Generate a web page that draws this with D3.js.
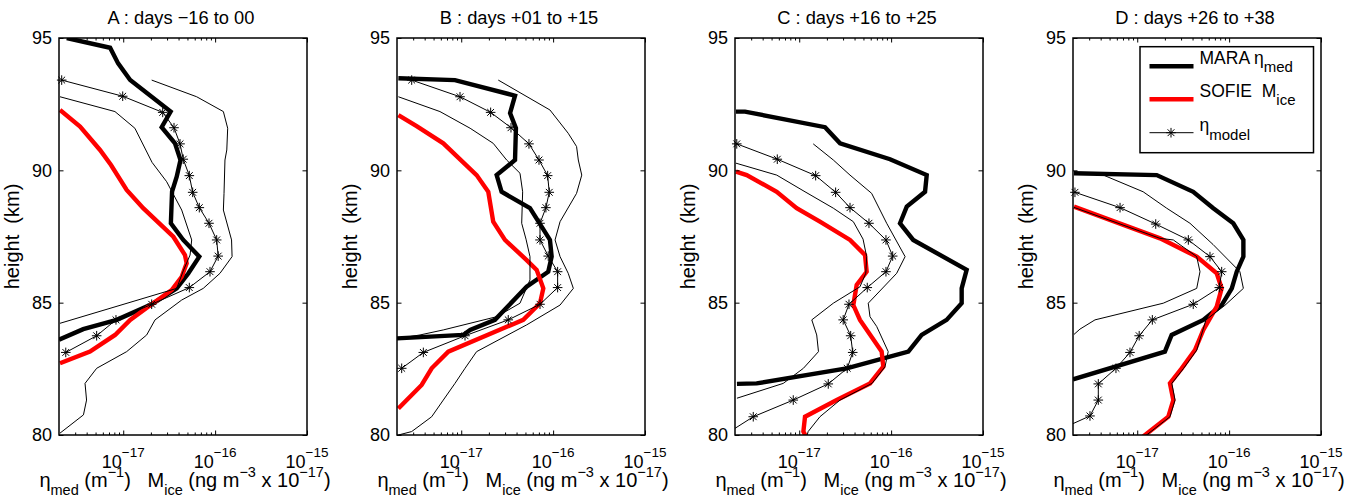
<!DOCTYPE html>
<html><head><meta charset="utf-8">
<script src="https://cdn.jsdelivr.net/npm/d3@7"></script>
<style>
body{margin:0;background:#fff}
text{font-family:"Liberation Sans",Arial,Helvetica,sans-serif;fill:#000}
</style>
</head><body>
<svg id="chart" width="1356" height="498" xmlns="http://www.w3.org/2000/svg"></svg>
<script>
// ---------- labels ----------
const panelTitles = ["A : days \u221216 to 00", "B : days +01 to +15", "C : days +16 to +25", "D : days +26 to +38"];
const yTickValues = [80, 85, 90, 95];
const xTickExponents = [-17, -16, -15];
const xMinorTicks = [3e-18,4e-18,5e-18,6e-18,7e-18,8e-18,9e-18,2e-17,3e-17,4e-17,5e-17,6e-17,7e-17,8e-17,9e-17];
const xDomain = [2e-18, 1e-15];
const yDomain = [80, 95];
const yAxisLabel = "height  (km)";
const legendLabels = [["MARA \u03b7", "med"], ["SOFIE  M", "ice"], ["\u03b7", "model"]];

// ---------- data: [height km, value] ----------
const maraA = [[95.0,2.43e-18],[94.63,7.2e-18],[94.04,8.8e-18],[93.41,1.19e-17],[92.22,3.28e-17],[91.63,2.62e-17],[91.02,3.66e-17],[90.39,4.2e-17],[89.76,3.82e-17],[89.2,3.4e-17],[88.0,3.3e-17],[87.37,4.5e-17],[86.74,6.73e-17],[86.1,5.1e-17],[85.54,3.82e-17],[84.94,2.04e-17],[84.35,8.5e-18],[84.0,3.67e-18],[83.6,2.0e-18]];
const sofieA = [[92.28,2.05e-18],[91.65,3.39e-18],[90.77,5.59e-18],[90.2,7.36e-18],[89.26,1.09e-17],[88.57,1.65e-17],[87.49,3.51e-17],[86.8,4.7e-17],[86.49,4.9e-17],[85.98,4.33e-17],[85.48,3.37e-17],[84.94,2.04e-17],[84.35,1.19e-17],[83.78,8.15e-18],[83.15,4.35e-18],[82.71,2.05e-18]];
const modelA = [[93.41,2.14e-18],[92.8,9.87e-18],[92.19,2.69e-17],[91.61,3.57e-17],[91.0,4.15e-17],[90.42,4.5e-17],[89.8,5.24e-17],[89.17,5.7e-17],[88.59,6.73e-17],[88.0,8.58e-17],[87.37,1.04e-16],[86.76,1.08e-16],[86.17,8.8e-17],[85.57,5.24e-17],[84.94,2.04e-17],[84.35,8.34e-18],[83.75,5.14e-18],[83.12,2.37e-18]];
const highA = [[93.41,2.04e-17],[92.78,6.3e-17],[92.22,1.23e-16],[91.59,1.37e-16],[90.77,1.34e-16],[90.39,1.28e-16],[89.13,1.25e-16],[88.5,1.23e-16],[87.37,1.51e-16],[86.74,1.53e-16],[86.11,1.13e-16],[85.54,7.43e-17],[85.1,4.33e-17],[84.35,2.22e-17],[83.78,1.8e-17],[83.15,1.09e-17],[82.52,5.14e-18],[81.95,3.84e-18],[81.32,3.99e-18],[80.76,3.69e-18],[80.07,2.05e-18]];
const lowA = [[92.78,2.05e-18],[92.22,8.13e-18],[91.59,1.34e-17],[90.3,2.06e-17],[89.57,2.97e-17],[88.5,4.33e-17],[87.37,5.56e-17],[86.8,5.34e-17],[86.2,4.5e-17],[85.54,3.82e-17],[84.22,2.05e-18]];

const maraB = [[93.48,2.07e-18],[93.41,8.55e-18],[92.82,3.85e-17],[92.16,3.4e-17],[91.59,3.94e-17],[90.39,3.85e-17],[89.82,2.43e-17],[89.19,2.75e-17],[88.57,5.6e-17],[87.37,9.24e-17],[86.74,9.64e-17],[86.17,8.85e-17],[85.6,5.15e-17],[84.35,2.33e-17],[83.97,1.25e-17],[83.78,1.05e-17],[83.65,2.0e-18]];
const sofieB = [[92.09,2.07e-18],[91.67,3.27e-18],[91.02,6.38e-18],[89.82,1.47e-17],[89.19,1.97e-17],[88.06,2.23e-17],[87.37,2.99e-17],[86.61,5.15e-17],[86.24,6.62e-17],[85.54,7.82e-17],[84.98,7.2e-17],[84.35,4.73e-17],[83.15,7.23e-18],[82.52,4.77e-18],[81.89,3.71e-18],[81.0,2.07e-18]];
const modelB = [[93.41,2.89e-18],[92.78,9.7e-18],[92.19,2.09e-17],[91.61,3.48e-17],[91.0,5.46e-17],[90.39,7.02e-17],[89.8,8.72e-17],[89.17,9.08e-17],[88.59,8.35e-17],[88.0,7.2e-17],[87.37,7.2e-17],[86.76,8.85e-17],[86.17,1.12e-16],[85.57,1.12e-16],[84.94,7.2e-17],[84.35,3.25e-17],[83.75,1.1e-17],[83.12,3.87e-18],[82.52,2.25e-18]];
const highB = [[93.41,2.53e-17],[92.28,9.24e-17],[91.4,1.46e-16],[90.9,1.8e-16],[90.39,1.88e-16],[89.82,2.05e-16],[89.13,1.8e-16],[88.06,1.19e-16],[87.37,1.05e-16],[86.74,1.19e-16],[86.11,1.46e-16],[85.54,1.66e-16],[84.91,1.19e-16],[84.16,5.15e-17],[83.15,1.47e-17],[82.52,1.1e-17],[81.95,8.55e-18],[81.32,6.38e-18],[80.69,4.77e-18],[80.13,2.89e-18],[80.0,2.07e-18]];
const lowB = [[92.78,2.07e-18],[92.22,5.87e-18],[91.59,1.25e-17],[91.02,2.23e-17],[90.39,3.12e-17],[89.89,4.36e-17],[89.19,4.66e-17],[88.0,4.55e-17],[87.4,5.07e-17],[86.74,5.6e-17],[85.86,5.6e-17],[84.98,4.36e-17],[84.47,2.43e-17],[83.97,6.38e-18],[83.78,3.56e-18],[83.65,2.07e-18]];

const maraC = [[92.22,2.05e-18],[92.22,2.57e-18],[91.63,1.91e-17],[91.02,2.78e-17],[90.42,9.73e-17],[89.82,2.44e-16],[89.19,2.34e-16],[88.63,1.48e-16],[88.0,1.25e-16],[87.37,1.74e-16],[86.24,6.64e-16],[85.54,5.86e-16],[84.98,5.86e-16],[84.35,4.02e-16],[83.78,2.15e-16],[83.15,1.54e-16],[82.52,3.28e-17],[81.95,3.44e-18],[81.93,2.1e-18]];
const sofieC = [[89.95,2.05e-18],[89.82,2.68e-18],[89.19,5.69e-18],[88.57,9.38e-18],[88.06,1.68e-17],[87.37,3.57e-17],[86.8,5.2e-17],[86.17,5.42e-17],[85.67,4.22e-17],[84.91,3.88e-17],[84.35,4.58e-17],[83.15,7.89e-17],[82.58,8.22e-17],[81.95,5.89e-17],[81.32,2.56e-17],[80.69,1.156e-17],[80.13,1.11e-17],[79.9,1.2e-17]];
const modelC = [[91.0,2.09e-18],[90.42,5.77e-18],[89.8,1.51e-17],[89.17,2.49e-17],[88.59,3.57e-17],[88.0,5.74e-17],[87.37,8.79e-17],[86.76,1.04e-16],[86.17,8.79e-17],[85.57,5.5e-17],[84.94,3.48e-17],[84.35,3.01e-17],[83.75,3.63e-17],[83.12,3.82e-17],[82.52,3.33e-17],[81.93,2.07e-17],[81.32,8.61e-18],[80.69,3.16e-18],[80.09,1.69e-18]];
const highC = [[91.0,1.42e-17],[90.39,2.35e-17],[89.82,3.57e-17],[89.13,6.14e-17],[88.0,8.95e-17],[86.74,1.42e-16],[86.11,1.15e-16],[84.98,5.64e-17],[84.47,5.89e-17],[84.1,6.97e-17],[83.15,9.3e-17],[82.58,8.58e-17],[81.95,6.2e-17],[81.32,2.78e-17],[80.69,1.68e-17],[80.13,1.25e-17],[79.9,1.2e-17]];
const lowC = [[90.27,2.05e-18],[89.82,5.69e-18],[89.19,1.156e-17],[88.57,2.35e-17],[88.06,3.88e-17],[87.4,4.95e-17],[86.74,5.42e-17],[86.11,5.3e-17],[85.6,4.58e-17],[84.98,2.35e-17],[84.35,1.37e-17],[83.78,1.55e-17],[83.15,1.62e-17],[82.52,1.11e-17],[81.95,6.7e-18],[81.39,2.1e-18]];

const maraD = [[89.89,2.05e-18],[89.82,1.63e-17],[89.19,4.07e-17],[88.57,6.73e-17],[88.0,1.11e-16],[87.37,1.43e-16],[86.74,1.43e-16],[86.17,1.21e-16],[85.54,1.07e-16],[84.91,8.3e-17],[84.35,5.24e-17],[83.78,2.37e-17],[83.15,2.0e-17],[82.1,2.0e-18]];
const sofieD = [[88.63,2.05e-18],[87.43,1.77e-17],[86.74,4.44e-17],[86.11,7.33e-17],[85.54,8.3e-17],[84.85,7.33e-17],[83.97,5.24e-17],[83.21,4.25e-17],[82.52,3.05e-17],[81.95,2.27e-17],[81.32,2.47e-17],[80.69,2.18e-17],[79.94,1.16e-17]];
const modelD = [[89.17,2.1e-18],[88.59,6.5e-18],[87.97,1.59e-17],[87.37,3.6e-17],[86.74,6.19e-17],[86.17,8.3e-17],[85.57,7.82e-17],[84.94,4.07e-17],[84.35,1.46e-17],[83.75,1.05e-17],[83.12,8.34e-18],[82.52,5.87e-18],[81.93,3.77e-18],[81.32,3.77e-18],[80.72,3.06e-18],[80.12,1.27e-18]];
const highD = [[89.9,2.05e-18],[89.82,4.28e-18],[89.19,1.16e-17],[88.57,2.09e-17],[88.0,3.75e-17],[87.2,6.68e-17],[86.17,1.31e-16],[85.54,1.43e-16],[84.9,9.0e-17],[84.35,5.6e-17],[83.21,4.45e-17],[82.52,3.2e-17],[81.95,2.38e-17],[81.32,2.58e-17],[80.69,2.27e-17],[79.94,1.2e-17]];
const lowD = [[88.6,2.05e-18],[87.43,1.77e-17],[87.37,2.47e-17],[86.74,4.44e-17],[86.17,4.82e-17],[85.54,4.44e-17],[84.98,1.92e-17],[84.35,3.47e-18],[84.0,2.38e-18],[83.8,2.05e-18]];

const panels = [
  {mara: maraA, sofie: sofieA, model: modelA, high: highA, low: lowA},
  {mara: maraB, sofie: sofieB, model: modelB, high: highB, low: lowB},
  {mara: maraC, sofie: sofieC, model: modelC, high: highC, low: lowC},
  {mara: maraD, sofie: sofieD, model: modelD, high: highD, low: lowD}
];

// ---------- layout ----------
const svg = d3.select("#chart");
svg.append("rect").attr("width", 1356).attr("height", 498).attr("fill", "#fff");
const lefts = [59, 397, 735, 1073];
const W = 248, TOP = 38, BOTTOM = 435;
const FS = 17.5, FSS = 13;

function starPath(r) {
  const d = r * Math.SQRT1_2;
  return `M${-r},0L${r},0M0,${-r}L0,${r}M${-d},${-d}L${d},${d}M${-d},${d}L${d},${-d}`;
}

function addRich(g, parts, baseSize, smallSize, shiftSub, shiftSup) {
  let cur = 0;
  parts.forEach(([t, type]) => {
    const target = type === "sub" ? shiftSub : type === "sup" ? -shiftSup : 0;
    g.append("tspan").attr("dy", target - cur)
      .attr("font-size", type === "n" ? baseSize : smallSize)
      .text(t);
    cur = target;
  });
}

panels.forEach((p, i) => {
  const L = lefts[i];
  const x = d3.scaleLog().domain(xDomain).range([L, L + W]);
  const y = d3.scaleLinear().domain(yDomain).range([BOTTOM, TOP]);
  const g = svg.append("g");

  const clipId = "clip" + i;
  svg.append("clipPath").attr("id", clipId).append("rect")
    .attr("x", L).attr("y", TOP).attr("width", W).attr("height", BOTTOM - TOP);

  const line = d3.line().x(d => x(d[1])).y(d => y(d[0]));
  const plot = g.append("g").attr("clip-path", `url(#${clipId})`);

  plot.append("path").datum(p.mara).attr("d", line).attr("fill", "none")
    .attr("stroke", "#000").attr("stroke-width", 4.4).attr("stroke-linejoin", "miter").attr("stroke-miterlimit", 3);
  plot.append("path").datum(p.sofie).attr("d", line).attr("fill", "none")
    .attr("stroke", "#ff0000").attr("stroke-width", 4.4).attr("stroke-linejoin", "miter").attr("stroke-miterlimit", 3);
  [p.high, p.low, p.model].forEach(s => {
    plot.append("path").datum(s).attr("d", line).attr("fill", "none")
      .attr("stroke", "#000").attr("stroke-width", 1);
  });
  g.append("g").selectAll("path")
    .data(p.model.filter(d => d[1] >= xDomain[0] && d[1] <= xDomain[1] && d[0] >= yDomain[0] && d[0] <= yDomain[1]))
    .join("path")
    .attr("transform", d => `translate(${x(d[1])},${y(d[0])})`)
    .attr("d", starPath(4.8)).attr("stroke", "#000").attr("stroke-width", 1).attr("fill", "none");

  // axes
  const majors = xTickExponents.map(e => Math.pow(10, e));
  const styleAxis = (a) => { a.select(".domain").remove(); a.selectAll("line").attr("stroke", "#000").attr("stroke-width", 1); };
  g.append("g").attr("transform", `translate(0,${BOTTOM})`)
    .call(d3.axisBottom(x).tickValues(majors).tickSize(-4.5).tickFormat("")).call(styleAxis);
  g.append("g").attr("transform", `translate(0,${BOTTOM})`)
    .call(d3.axisBottom(x).tickValues(xMinorTicks).tickSize(-2.5).tickFormat("")).call(styleAxis);
  g.append("g").attr("transform", `translate(0,${TOP})`)
    .call(d3.axisTop(x).tickValues(majors).tickSize(-4.5).tickFormat("")).call(styleAxis);
  g.append("g").attr("transform", `translate(0,${TOP})`)
    .call(d3.axisTop(x).tickValues(xMinorTicks).tickSize(-2.5).tickFormat("")).call(styleAxis);
  const ya = g.append("g").attr("transform", `translate(${L},0)`)
    .call(d3.axisLeft(y).tickValues(yTickValues).tickSize(-4.5).tickPadding(7).tickFormat(d3.format("d")));
  styleAxis(ya);
  ya.selectAll("text").attr("font-size", 18).attr("font-family", '"Liberation Sans",Arial,sans-serif').attr("fill", "#000");
  g.append("g").attr("transform", `translate(${L + W},0)`)
    .call(d3.axisRight(y).tickValues(yTickValues).tickSize(-4.5).tickFormat("")).call(styleAxis);

  g.append("rect").attr("x", L).attr("y", TOP).attr("width", W).attr("height", BOTTOM - TOP)
    .attr("fill", "none").attr("stroke", "#000").attr("stroke-width", 1.5);

  // x tick labels
  majors.forEach((v, k) => {
    const t = g.append("text").attr("x", x(v)).attr("y", 468).attr("text-anchor", "middle");
    addRich(t, [["10", "n"], ["\u2212" + String(-xTickExponents[k]), "sup"]], 18, 13.5, 0, 11.5);
  });

  // x label
  const xl = g.append("text").attr("x", L + W / 2 + 2).attr("y", 487).attr("text-anchor", "middle")
    .style("white-space", "pre");
  addRich(xl, [["\u03b7", "n"], ["med", "sub"], [" (m", "n"], ["\u22121", "sup"], [")   M", "n"], ["ice", "sub"],
    [" (ng m", "n"], ["\u22123", "sup"], [" x 10", "n"], ["\u221217", "sup"], [")", "n"]], 20, 14.5, 8, 10);

  // y label
  svg.append("text").attr("transform", `translate(${L - 40},${(TOP + BOTTOM) / 2}) rotate(-90)`)
    .attr("text-anchor", "middle").attr("font-size", 20).style("white-space", "pre").text(yAxisLabel);

  // title
  svg.append("text").attr("x", L + W / 2 - 2).attr("y", 23.5).attr("text-anchor", "middle")
    .attr("font-size", 18.3).text(panelTitles[i]);

  // legend in last panel
  if (i === 3) {
    const lg = svg.append("g");
    const bx = L + 67, by = TOP + 8.7, bw = 173.5, bh = 106;
    lg.append("rect").attr("x", bx).attr("y", by).attr("width", bw).attr("height", bh)
      .attr("fill", "#fff").attr("stroke", "#000").attr("stroke-width", 1.5);
    const rowsY = [by + 19.5, by + 52.5, by + 86];
    const styles = [{c: "#000", w: 4.4}, {c: "#ff0000", w: 4.4}, {c: "#000", w: 1}];
    legendLabels.forEach((lab, k) => {
      lg.append("line").attr("x1", bx + 9.5).attr("x2", bx + 53.5).attr("y1", rowsY[k]).attr("y2", rowsY[k])
        .attr("stroke", styles[k].c).attr("stroke-width", styles[k].w);
      if (k === 2) lg.append("path").attr("transform", `translate(${bx + 31},${rowsY[k]})`).attr("d", starPath(4.8))
        .attr("stroke", "#000").attr("stroke-width", 1);
      const t = lg.append("text").attr("x", bx + 59.5).attr("y", rowsY[k] - (k === 2 ? 1.5 : 2.5)).style("white-space", "pre");
      addRich(t, [[lab[0], "n"], [lab[1], "sub"]], 17.5, 15, 8.5, 0);
    });
  }
});
</script>
</body></html>
